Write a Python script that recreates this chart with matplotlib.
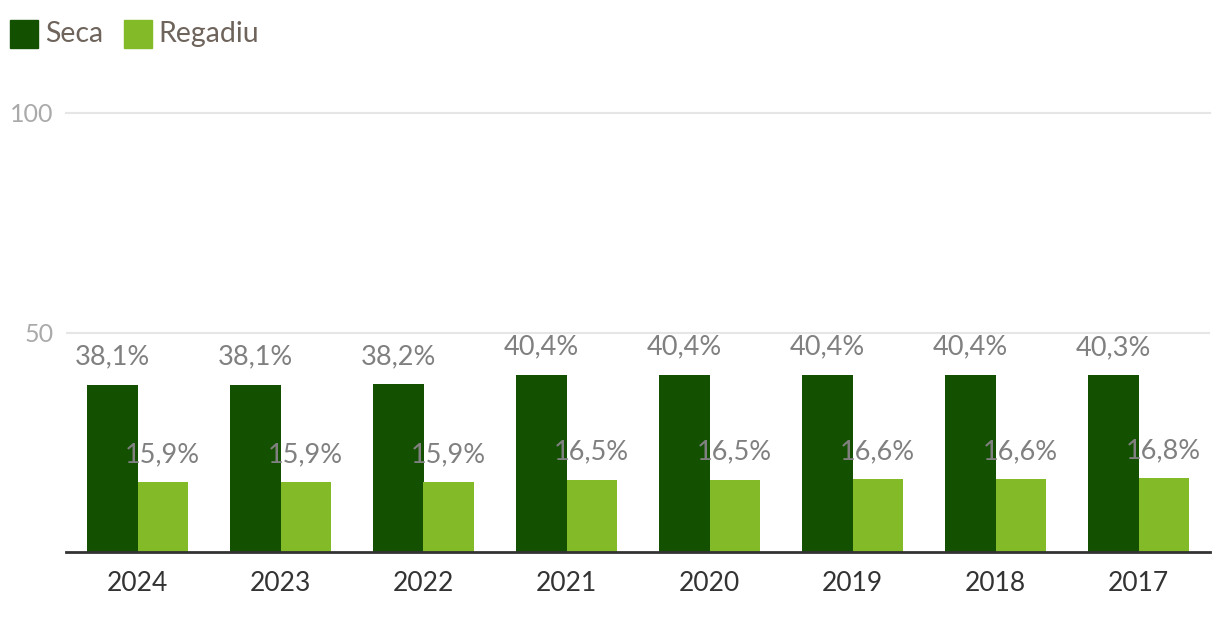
import matplotlib.pyplot as plt
from matplotlib.patches import Rectangle
import numpy as np

plt.rcParams['font.family'] = ['Lato', 'DejaVu Sans']

years = ['2024', '2023', '2022', '2021', '2020', '2019', '2018', '2017']
seca = [38.1, 38.1, 38.2, 40.4, 40.4, 40.4, 40.4, 40.3]
regadiu = [15.9, 15.9, 15.9, 16.5, 16.5, 16.6, 16.6, 16.8]
series_names = ['Seca', 'Regadiu']
colors = ['#135000', '#82ba28']

W, H = 1220, 628
fig = plt.figure(figsize=(W / 100, H / 100), dpi=100)
# axes in pixel coords: x 66..1210, y 113..552
ax = fig.add_axes([66 / W, (H - 552) / H, (1210 - 66) / W, (552 - 113) / H])

x = np.arange(len(years))
bw = 0.35
ax.bar(x - bw / 2, seca, width=bw, color=colors[0], zorder=2)
ax.bar(x + bw / 2, regadiu, width=bw, color=colors[1], zorder=2)

for xi, v in zip(x, seca):
    ax.annotate(f"{v:.1f}%".replace('.', ','), (xi - bw / 2, v), xytext=(0, 14.5),
                textcoords='offset points', ha='center', va='baseline',
                fontsize=19.5, color='#808080', zorder=4)
for xi, v in zip(x, regadiu):
    ax.annotate(f"{v:.1f}%".replace('.', ','), (xi + bw / 2, v), xytext=(0, 14.5),
                textcoords='offset points', ha='center', va='baseline',
                fontsize=19.5, color='#808080', zorder=4)

ax.set_xlim(-0.5, len(years) - 0.5)
ax.set_ylim(0, 100)
for s in ax.spines.values():
    s.set_visible(False)
ax.axhline(50, color='#e6e6e6', lw=1.5, zorder=1)
ax.axhline(100, color='#e6e6e6', lw=1.5, zorder=1, clip_on=False)
ax.axhline(0, color='#333333', lw=2, zorder=3, clip_on=False)

ax.set_xticks(x)
ax.set_xticklabels(years, fontsize=19, color='#333333')
ax.set_yticks([50, 100])
ax.set_yticklabels(['50', '100'], fontsize=18, color='#aaaaaa')
ax.tick_params(axis='x', length=0, pad=14)
ax.tick_params(axis='y', length=0, pad=9)

# legend
legend_x = [10, 124]
text_x = [45, 158]
for lx, tx, name, col in zip(legend_x, text_x, series_names, colors):
    fig.add_artist(Rectangle((lx / W, (H - 48) / H), 28 / W, 28 / H,
                             transform=fig.transFigure, color=col))
    fig.text(tx / W, (H - 34) / H, name, fontsize=20.5, color='#6e645b',
             ha='left', va='center')

fig.savefig('out.png', dpi=100)
